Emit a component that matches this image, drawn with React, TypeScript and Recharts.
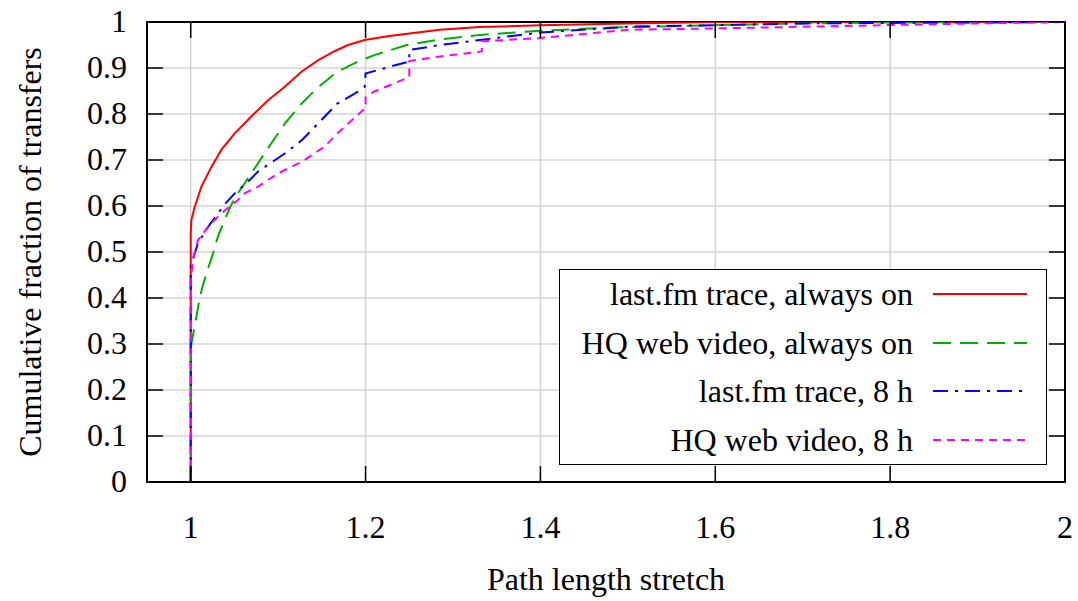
import React from 'react';
import { LineChart, Line, XAxis, YAxis, CartesianGrid, ReferenceArea, Legend } from 'recharts';

// stretch values (x) and cumulative fractions (y) for each trace
const lastfmOnX = [1, 1, 1.0008, 1.0046, 1.0122, 1.0237, 1.035, 1.0503, 1.069, 1.0885, 1.1076, 1.1267, 1.146, 1.165, 1.18, 1.199, 1.225, 1.25, 1.285, 1.33, 1.4, 1.5, 1.6, 2];
const lastfmOnY = [0, 0.541, 0.57, 0.598, 0.642, 0.685, 0.722, 0.758, 0.794, 0.83, 0.859, 0.892, 0.917, 0.937, 0.95, 0.961, 0.969, 0.975, 0.983, 0.989, 0.993, 0.997, 1, 1];

const videoOnX = [1, 1, 1.0008, 1.0065, 1.0103, 1.014, 1.02, 1.0255, 1.031, 1.037, 1.0446, 1.05, 1.062, 1.077, 1.092, 1.108, 1.127, 1.146, 1.168, 1.191, 1.21, 1.247, 1.285, 1.331, 1.399, 1.483, 1.597, 1.7, 1.8, 2];
const videoOnY = [0, 0.28, 0.3, 0.36, 0.4, 0.428, 0.465, 0.497, 0.533, 0.562, 0.595, 0.617, 0.65, 0.693, 0.736, 0.78, 0.823, 0.859, 0.892, 0.914, 0.928, 0.95, 0.962, 0.972, 0.981, 0.988, 0.993, 0.997, 0.999, 1];

const lastfm8hX = [1, 1, 1.0046, 1.0084, 1.02, 1.039, 1.054, 1.062, 1.077, 1.085, 1.1076, 1.127, 1.146, 1.168, 1.188, 1.199, 1.2, 1.228, 1.25, 1.25, 1.285, 1.331, 1.399, 1.502, 1.6, 1.7, 2];
const lastfm8hY = [0, 0.468, 0.497, 0.52, 0.555, 0.604, 0.635, 0.646, 0.675, 0.685, 0.714, 0.743, 0.78, 0.823, 0.845, 0.859, 0.888, 0.903, 0.914, 0.939, 0.95, 0.961, 0.977, 0.99, 0.993, 0.997, 1];

const video8hX = [1, 1, 1.0027, 1.0084, 1.02, 1.035, 1.054, 1.062, 1.077, 1.1, 1.127, 1.153, 1.168, 1.195, 1.2, 1.2, 1.21, 1.25, 1.25, 1.285, 1.333, 1.333, 1.399, 1.5, 1.6, 1.79, 1.9, 2];
const video8hY = [0, 0.44, 0.486, 0.526, 0.555, 0.584, 0.613, 0.628, 0.642, 0.671, 0.696, 0.729, 0.758, 0.805, 0.812, 0.836, 0.849, 0.88, 0.915, 0.925, 0.936, 0.958, 0.965, 0.983, 0.986, 0.993, 0.997, 1];

const xTicks = [1, 1.2, 1.4, 1.6, 1.8, 2];
const yTicks = [0, 0.1, 0.2, 0.3, 0.4, 0.5, 0.6, 0.7, 0.8, 0.9, 1];

const toPoints = (xs: number[], ys: number[]) => xs.map((x, i) => ({ x, y: ys[i] }));

const series = [
  { name: 'last.fm trace, always on', data: toPoints(lastfmOnX, lastfmOnY), color: '#ff0000', dash: undefined },
  { name: 'HQ web video, always on', data: toPoints(videoOnX, videoOnY), color: '#00b000', dash: '18 9' },
  { name: 'last.fm trace, 8 h', data: toPoints(lastfm8hX, lastfm8hY), color: '#0000ff', dash: '15 7 3 7' },
  { name: 'HQ web video, 8 h', data: toPoints(video8hX, video8hY), color: '#ff00ff', dash: '8 6' },
];

const W = 1078;
const H = 601;
const MARGIN = { top: 22, right: 13, bottom: 0, left: 0 };
const Y_AXIS_W = 147;
const X_AXIS_H = 119;
const PLOT_TOP = MARGIN.top;
const PLOT_RIGHT = W - MARGIN.right;
const TICK_LEN = 16;
const FONT = 'Liberation Serif, DejaVu Serif, serif';
const FONT_SIZE = 32;

const XTick = ({ x, y, payload }: any) => (
  <g>
    <line x1={x} x2={x} y1={y} y2={y - TICK_LEN} stroke="#000" strokeWidth={1.5} />
    <line x1={x} x2={x} y1={PLOT_TOP} y2={PLOT_TOP + TICK_LEN} stroke="#000" strokeWidth={1.5} />
    <text x={x} y={y + 56} textAnchor="middle" style={{ fontFamily: FONT }} fontSize={FONT_SIZE} fill="#000">
      {payload.value}
    </text>
  </g>
);

const YTick = ({ x, y, payload }: any) => (
  <g>
    <line x1={x} x2={x + TICK_LEN} y1={y} y2={y} stroke="#000" strokeWidth={1.5} />
    <line x1={PLOT_RIGHT} x2={PLOT_RIGHT - TICK_LEN} y1={y} y2={y} stroke="#000" strokeWidth={1.5} />
    <text x={x - 20} y={y + 10} textAnchor="end" style={{ fontFamily: FONT }} fontSize={FONT_SIZE} fill="#000">
      {payload.value}
    </text>
  </g>
);

const LegendBox = () => (
  <div
    style={{
      width: 486,
      height: 194,
      border: '1.5px solid #000',
      background: '#fff',
      fontFamily: FONT,
      fontSize: FONT_SIZE,
      color: '#000',
    }}
  >
    {series.map((s) => (
      <div key={s.name} style={{ display: 'flex', alignItems: 'center', height: 48.5 }}>
        <div style={{ width: 353, textAlign: 'right', whiteSpace: 'nowrap', lineHeight: 1 }}>{s.name}</div>
        <svg width={94} height={6} style={{ marginLeft: 20 }}>
          <line x1={0} x2={94} y1={3} y2={3} stroke={s.color} strokeWidth={2} strokeDasharray={s.dash} />
        </svg>
      </div>
    ))}
  </div>
);

export default function App() {
  return (
    <div style={{ position: 'fixed', left: 0, top: 0, background: '#fff', fontFamily: FONT }}>
      <LineChart width={W} height={H} margin={MARGIN}>
        <CartesianGrid stroke="#d4d4d4" strokeWidth={1.5} />
        <XAxis
          dataKey="x"
          type="number"
          domain={[0.95, 2]}
          ticks={xTicks}
          allowDataOverflow
          height={X_AXIS_H}
          axisLine={false}
          tickLine={false}
          tickSize={0}
          tickMargin={0}
          tick={<XTick />}
          label={{
            content: ({ viewBox }: any) => (
              <text
                x={viewBox.x + viewBox.width / 2}
                y={viewBox.y + 108}
                textAnchor="middle"
                style={{ fontFamily: FONT }}
                fontSize={FONT_SIZE}
                fill="#000"
              >
                Path length stretch
              </text>
            ),
          }}
        />
        <YAxis
          type="number"
          domain={[0, 1]}
          ticks={yTicks}
          allowDataOverflow
          width={Y_AXIS_W}
          axisLine={false}
          tickLine={false}
          tickSize={0}
          tickMargin={0}
          tick={<YTick />}
          label={{
            content: ({ viewBox }: any) => {
              const cx = viewBox.x + 30;
              const cy = viewBox.y + viewBox.height / 2;
              return (
                <text
                  x={cx}
                  y={cy}
                  transform={`rotate(-90 ${cx} ${cy})`}
                  textAnchor="middle"
                  dominantBaseline="central"
                  style={{ fontFamily: FONT }}
                  fontSize={FONT_SIZE}
                  fill="#000"
                >
                  Cumulative fraction of transfers
                </text>
              );
            },
          }}
        />
        <ReferenceArea x1={0.95} x2={2} y1={0} y2={1} fill="none" stroke="#000" strokeWidth={2} />
        {series.map((s) => (
          <Line
            key={s.name}
            data={s.data}
            dataKey="y"
            name={s.name}
            type="linear"
            stroke={s.color}
            strokeWidth={2}
            strokeDasharray={s.dash}
            dot={false}
            activeDot={false}
            isAnimationActive={false}
          />
        ))}
        <Legend
          layout="vertical"
          align="center"
          verticalAlign="middle"
          content={<LegendBox />}
          wrapperStyle={{ position: 'absolute', left: 559, top: 269, width: 489, height: 197 }}
        />
      </LineChart>
    </div>
  );
}
